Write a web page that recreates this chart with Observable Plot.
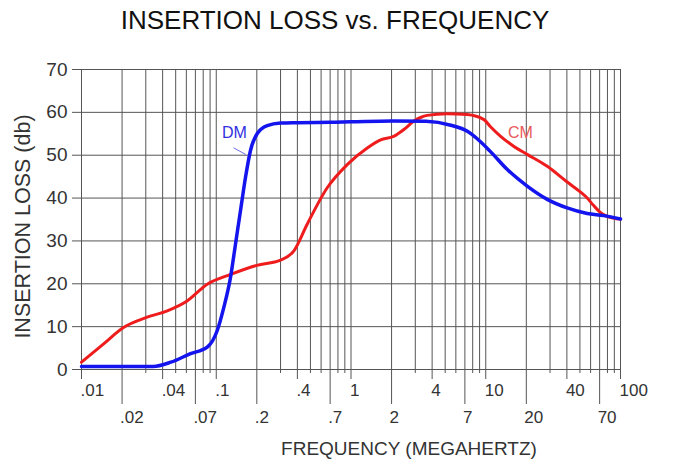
<!DOCTYPE html>
<html><head><meta charset="utf-8">
<script src="https://cdn.jsdelivr.net/npm/d3@7"></script>
<script src="https://cdn.jsdelivr.net/npm/@observablehq/plot@0.6"></script>
<style>
body{margin:0;background:#fff;font-family:"Liberation Sans",Arial,sans-serif;}
#title{width:670px;height:40px;line-height:40px;font-size:26px;text-align:center;color:#111;}
</style></head><body>
<div id="title">INSERTION LOSS vs. FREQUENCY</div>
<div id="chart"></div>
<script>
// DM (differential mode) curve
const dmFreq = [0.01, 0.02, 0.034, 0.046, 0.0644, 0.0857, 0.1017, 0.1138, 0.1276, 0.139, 0.1514, 0.165, 0.1795, 0.201, 0.239, 0.3, 0.4, 0.7, 1, 2, 3.6, 5.5, 7.3, 8.6, 10.8, 14.4, 20.3, 28.6, 40.2, 56.6, 75, 100];
const dmLoss = [0.7, 0.7, 0.7, 1.7, 3.7, 5.2, 9.1, 14.5, 21.5, 29.3, 37.1, 44.9, 51.1, 55, 56.9, 57.5, 57.6, 57.7, 57.8, 58, 57.9, 57, 55.6, 53.9, 50.9, 46.7, 42.8, 39.7, 37.7, 36.4, 35.9, 35.1];
// CM (common mode) curve
const cmFreq = [0.01, 0.0146, 0.0205, 0.0307, 0.0433, 0.0608, 0.0857, 0.128, 0.2, 0.3, 0.377, 0.473, 0.666, 0.937, 1.32, 1.66, 2.07, 2.47, 2.91, 3.28, 3.67, 5.17, 7.28, 9.7, 10.8, 12.9, 16.1, 20.3, 28.6, 40, 50, 56.6, 63, 70, 80, 100];
const cmLoss = [1.7, 6, 9.8, 12.2, 13.7, 16, 19.9, 22.2, 24.3, 25.5, 27.7, 33.9, 42.4, 47.8, 51.7, 53.6, 54.4, 56, 57.9, 58.8, 59.3, 59.7, 59.5, 58.3, 56.7, 54.4, 52.1, 50.2, 47.4, 43.8, 41.5, 40, 38.3, 36.8, 35.7, 35.1];
// axis ticks
const gridFreqs = [0.01,0.02,0.03,0.04,0.05,0.06,0.07,0.08,0.09,0.1,0.2,0.3,0.4,0.5,0.6,0.7,0.8,0.9,1,2,3,4,5,6,7,8,9,10,20,30,40,50,60,70,80,90,100];
const upperTicks = [0.01, 0.04, 0.1, 0.4, 1, 4, 10, 40, 100];
const upperLabels = [".01", ".04", ".1", ".4", "1", "4", "10", "40", "100"];
const lowerTicks = [0.02, 0.07, 0.2, 0.7, 2, 7, 20, 70];
const lowerLabels = [".02", ".07", ".2", ".7", "2", "7", "20", "70"];
const yTicks = [0, 10, 20, 30, 40, 50, 60, 70];
// series labels
const seriesNames = ["DM", "CM"];
const seriesLabelFreq = [0.1365, 18.1];
const seriesLabelLoss = [54, 54];
const leaderFreq = [0.1349, 0.1648];
const leaderLoss = [51.7, 50.2];

const dm = dmFreq.map((f, i) => ({f, loss: dmLoss[i]}));
const cm = cmFreq.map((f, i) => ({f, loss: cmLoss[i]}));
const minorTicks = gridFreqs.filter(f => !upperTicks.includes(f) && !lowerTicks.includes(f));
const upper = upperTicks.map((f, i) => ({f, label: upperLabels[i]}));
const lower = lowerTicks.map((f, i) => ({f, label: lowerLabels[i]}));
const labels = seriesNames.map((n, i) => ({n, f: seriesLabelFreq[i], loss: seriesLabelLoss[i]}));

const W = 698, H = 429, mL = 81, mR = 78, mT = 29, mB = 100;
const frameH = H - mT - mB;
const grid = "#555";
const txt = "#333";
const chart = Plot.plot({
  width: W,
  height: H,
  marginLeft: mL,
  marginRight: mR,
  marginTop: mT,
  marginBottom: mB,
  style: {fontFamily: '"Liberation Sans", Arial, sans-serif', background: "#fff"},
  x: {type: "log", domain: [0.01, 100], axis: null},
  y: {domain: [0, 70], axis: null},
  marks: [
    Plot.gridX(gridFreqs, {stroke: grid, strokeOpacity: 1}),
    Plot.gridY(yTicks, {stroke: grid, strokeOpacity: 1}),
    // ticks below the x axis
    Plot.ruleX(minorTicks, {x: d => d, insetTop: frameH, insetBottom: -4, stroke: grid}),
    Plot.ruleX(upperTicks, {x: d => d, insetTop: frameH, insetBottom: -10, stroke: grid}),
    Plot.ruleX(lowerTicks, {x: d => d, insetTop: frameH, insetBottom: -35, stroke: grid}),
    Plot.text(upper, {x: "f", text: "label", frameAnchor: "bottom", lineAnchor: "top", dy: 14, dx: -1, textAnchor: "start", fontSize: 17, fill: txt}),
    Plot.text(lower, {x: "f", text: "label", frameAnchor: "bottom", lineAnchor: "top", dy: 41, dx: -2, textAnchor: "start", fontSize: 17, fill: txt}),
    Plot.axisY(yTicks, {anchor: "left", tickSize: 9, tickPadding: 5, fontSize: 19, stroke: grid, fill: txt, label: null}),
    Plot.text(["INSERTION LOSS (db)"], {frameAnchor: "left", rotate: -90, dx: -58, dy: 7, fontSize: 21.5, fill: txt, textAnchor: "middle", lineAnchor: "middle"}),
    Plot.text(["FREQUENCY (MEGAHERTZ)"], {frameAnchor: "bottom", lineAnchor: "bottom", dx: 58, dy: 85, fontSize: 19, fill: txt}),
    Plot.line(cm, {x: "f", y: "loss", stroke: "#ee1c1c", strokeWidth: 3, curve: "monotone-x"}),
    Plot.line(dm, {x: "f", y: "loss", stroke: "#1414ee", strokeWidth: 3.5, curve: "monotone-x"}),
    Plot.line(leaderFreq.map((f, i) => ({f, loss: leaderLoss[i]})), {x: "f", y: "loss", stroke: "#7070e0", strokeWidth: 1}),
    Plot.text(labels, {x: "f", y: "loss", text: "n", fontSize: 16, lineAnchor: "bottom", fill: d => d.n === "DM" ? "#3030e0" : "#e85a5a"})
  ]
});
document.getElementById("chart").appendChild(chart);
</script>
</body></html>
